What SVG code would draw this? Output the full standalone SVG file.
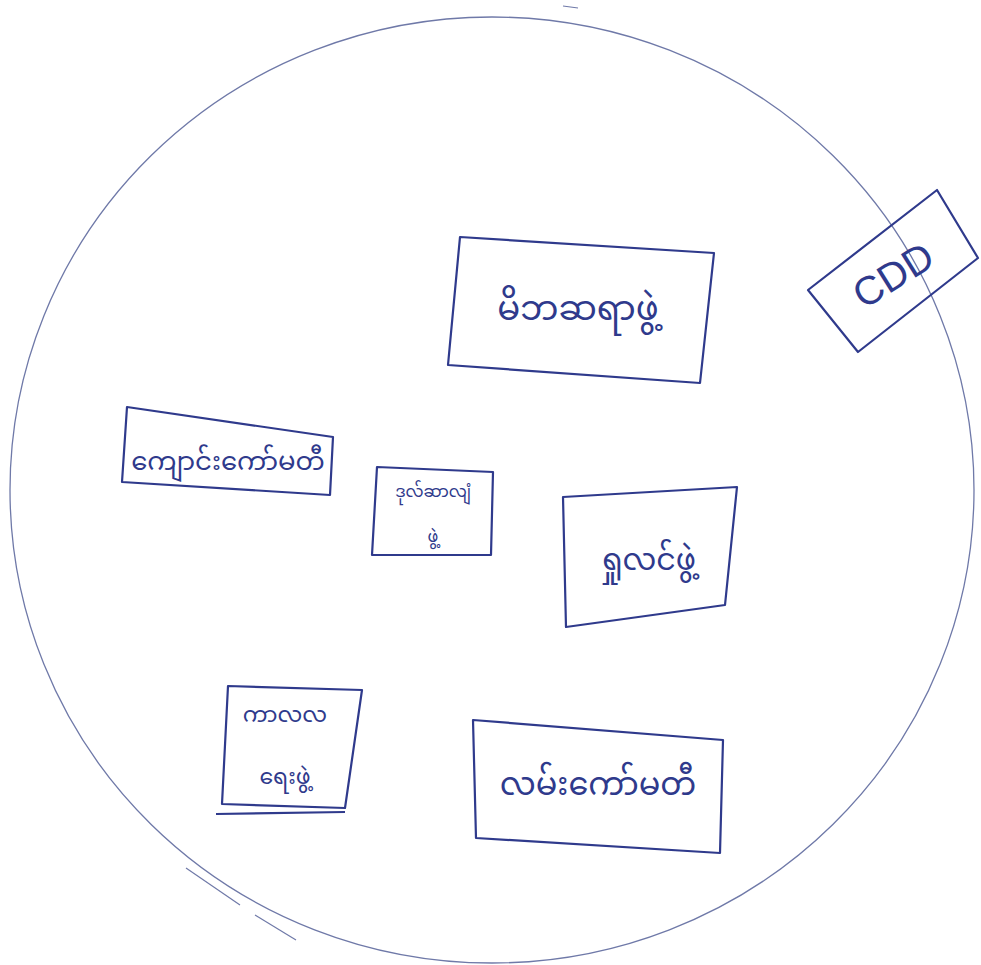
<svg xmlns="http://www.w3.org/2000/svg" width="981" height="965" viewBox="0 0 981 965">
<style>
.bg{fill:#ffffff}
.circle{fill:none;stroke:#6f79a8;stroke-width:1.3}
.box{fill:none;stroke:#2f3a8c;stroke-width:2.2;stroke-linejoin:round}
.lbl{font-family:"Noto Sans Myanmar","Padauk","Myanmar Text","Noto Sans","DejaVu Sans",sans-serif;fill:#2f3a8c;text-anchor:middle}
.cdd{font-family:"Liberation Sans","DejaVu Sans",sans-serif;fill:#2f3a8c;text-anchor:middle;font-size:40px}
.mark{fill:none;stroke:#6f79a8;stroke-width:1.2}
</style>
<rect class="bg" x="0" y="0" width="981" height="965"/>
<ellipse class="circle" cx="492" cy="490" rx="482" ry="473"/>
<g id="connectors">
<path class="mark" d="M186 868 L240 905"/>
<path class="mark" d="M255 915 L296 940"/>
<path class="mark" d="M563 6 L578 8"/>
</g>
<g id="n1">
<polygon class="box" points="460,237 714,253 700,383 448,365"/>
<text class="lbl" x="578" y="320" font-size="34">မိဘဆရာဖွဲ့</text>
</g>
<g id="n2">
<polygon class="box" points="127,407 333,437 330,495 122,482"/>
<text class="lbl" x="228" y="470" font-size="26">ကျောင်းကော်မတီ</text>
</g>
<g id="n3">
<polygon class="box" points="377,467 493,472 491,555 372,555"/>
<text class="lbl" x="433" y="497" font-size="16">ဒုလ်ဆာလျံ</text>
<text class="lbl" x="433" y="542" font-size="16">ဖွဲ့</text>
</g>
<g id="n4">
<polygon class="box" points="563,497 737,487 725,605 566,627"/>
<text class="lbl" x="648" y="570" font-size="30">ရှုလင်ဖွဲ့</text>
</g>
<g id="n5">
<polygon class="box" points="228,686 362,690 345,808 222,804"/>
<path class="box" d="M216 814 L345 812"/>
<text class="lbl" x="285" y="722" font-size="22">ကာလလ</text>
<text class="lbl" x="285" y="784" font-size="22">ရေးဖွဲ့</text>
</g>
<g id="n6">
<polygon class="box" points="473,720 723,740 720,853 476,838"/>
<text class="lbl" x="598" y="795" font-size="32">လမ်းကော်မတီ</text>
</g>
<g id="n7">
<polygon class="box" points="808,290 937,190 978,258 858,352"/>
<text class="cdd" x="893" y="289" font-size="42" transform="rotate(-32 893 275)">CDD</text>
</g>
</svg>
